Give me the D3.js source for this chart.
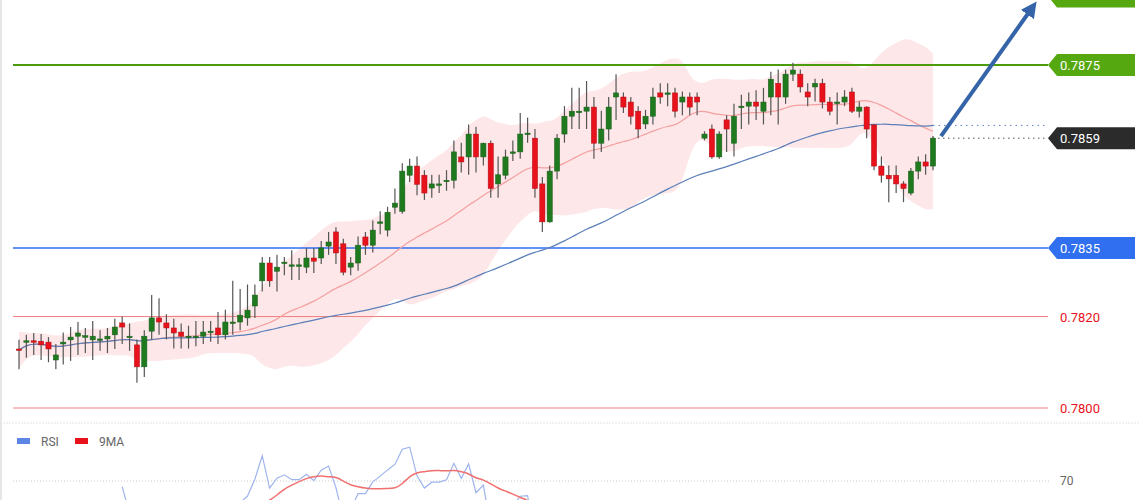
<!DOCTYPE html>
<html><head><meta charset="utf-8">
<script src="https://cdn.jsdelivr.net/npm/d3@7"></script>
<style>body{margin:0;background:#fff}svg{display:block;font-family:Roboto,Arial,sans-serif}</style>
</head><body><svg id="c" width="1140" height="500"></svg>
<script>
// candles: [open, high, low, close]
const candles = [
[0.78129,0.78149,0.78085,0.78127],[0.78146,0.78160,0.78110,0.78147],[0.78147,0.78164,0.78116,0.78146],[0.78146,0.78162,0.78105,0.78138],
[0.78144,0.78155,0.78100,0.78129],[0.78105,0.78140,0.78085,0.78116],[0.78140,0.78165,0.78095,0.78144],[0.78149,0.78177,0.78103,0.78155],
[0.78157,0.78188,0.78116,0.78164],[0.78156,0.78175,0.78120,0.78158],[0.78149,0.78190,0.78105,0.78157],[0.78151,0.78170,0.78125,0.78151],
[0.78151,0.78175,0.78120,0.78157],[0.78160,0.78195,0.78129,0.78177],[0.78186,0.78200,0.78140,0.78177],[0.78157,0.78185,0.78125,0.78157],
[0.78138,0.78150,0.78055,0.78090],[0.78090,0.78170,0.78068,0.78157],[0.78168,0.78247,0.78150,0.78197],[0.78197,0.78240,0.78160,0.78188],
[0.78186,0.78205,0.78150,0.78175],[0.78175,0.78195,0.78130,0.78164],[0.78166,0.78185,0.78130,0.78157],[0.78157,0.78180,0.78130,0.78157],
[0.78157,0.78190,0.78135,0.78157],[0.78157,0.78190,0.78140,0.78166],[0.78168,0.78190,0.78145,0.78168],[0.78175,0.78210,0.78140,0.78160],
[0.78160,0.78215,0.78150,0.78188],[0.78188,0.78278,0.78160,0.78188],[0.78188,0.78260,0.78170,0.78203],[0.78197,0.78270,0.78180,0.78214],
[0.78223,0.78270,0.78197,0.78247],[0.78278,0.78330,0.78255,0.78317],[0.78317,0.78330,0.78265,0.78278],[0.78299,0.78335,0.78255,0.78308],
[0.78319,0.78330,0.78290,0.78319],[0.78313,0.78345,0.78280,0.78313],[0.78310,0.78328,0.78280,0.78313],[0.78308,0.78350,0.78295,0.78328],
[0.78328,0.78350,0.78295,0.78321],[0.78328,0.78365,0.78315,0.78350],[0.78354,0.78385,0.78335,0.78363],[0.78385,0.78395,0.78315,0.78339],
[0.78359,0.78370,0.78290,0.78297],[0.78308,0.78330,0.78290,0.78317],[0.78317,0.78375,0.78300,0.78356],[0.78374,0.78385,0.78335,0.78356],
[0.78356,0.78410,0.78340,0.78389],[0.78407,0.78430,0.78380,0.78407],[0.78389,0.78440,0.78375,0.78428],[0.78439,0.78480,0.78425,0.78448],
[0.78430,0.78535,0.78425,0.78518],[0.78509,0.78545,0.78494,0.78529],[0.78529,0.78550,0.78465,0.78489],[0.78509,0.78520,0.78455,0.78470],
[0.78481,0.78510,0.78460,0.78490],[0.78490,0.78510,0.78470,0.78490],[0.78498,0.78520,0.78475,0.78498],[0.78498,0.78585,0.78480,0.78560],
[0.78549,0.78580,0.78515,0.78538],[0.78549,0.78620,0.78510,0.78599],[0.78599,0.78615,0.78515,0.78549],[0.78549,0.78580,0.78530,0.78579],
[0.78579,0.78585,0.78460,0.78480],[0.78490,0.78550,0.78460,0.78510],[0.78509,0.78565,0.78500,0.78549],[0.78560,0.78585,0.78540,0.78560],
[0.78560,0.78645,0.78545,0.78599],[0.78601,0.78635,0.78580,0.78601],[0.78590,0.78610,0.78460,0.78480],[0.78490,0.78505,0.78385,0.78407],
[0.78407,0.78530,0.78405,0.78518],[0.78518,0.78599,0.78500,0.78590],[0.78599,0.78660,0.78580,0.78638],[0.78638,0.78700,0.78610,0.78649],
[0.78649,0.78700,0.78610,0.78649],[0.78649,0.78715,0.78610,0.78658],[0.78658,0.78680,0.78545,0.78579],[0.78579,0.78650,0.78560,0.78610],
[0.78610,0.78680,0.78585,0.78658],[0.78680,0.78730,0.78630,0.78689],[0.78680,0.78690,0.78645,0.78658],[0.78669,0.78680,0.78620,0.78638],
[0.78649,0.78660,0.78590,0.78610],[0.78621,0.78652,0.78610,0.78638],[0.78638,0.78700,0.78620,0.78680],[0.78689,0.78710,0.78665,0.78680],
[0.78689,0.78710,0.78660,0.78689],[0.78689,0.78700,0.78635,0.78649],[0.78669,0.78692,0.78640,0.78680],[0.78680,0.78690,0.78640,0.78658],
[0.78680,0.78690,0.78640,0.78669],[0.78590,0.78605,0.78585,0.78599],[0.78610,0.78620,0.78545,0.78549],[0.78549,0.78605,0.78545,0.78599],
[0.78630,0.78640,0.78560,0.78610],[0.78579,0.78665,0.78550,0.78638],[0.78660,0.78685,0.78610,0.78660],[0.78660,0.78690,0.78620,0.78669],
[0.78669,0.78695,0.78630,0.78660],[0.78649,0.78700,0.78620,0.78669],[0.78680,0.78735,0.78640,0.78719],[0.78710,0.78740,0.78620,0.78680],
[0.78680,0.78740,0.78665,0.78730],[0.78730,0.78755,0.78715,0.78739],[0.78730,0.78740,0.78690,0.78702],[0.78691,0.78710,0.78660,0.78680],
[0.78702,0.78720,0.78670,0.78710],[0.78710,0.78720,0.78655,0.78669],[0.78669,0.78680,0.78640,0.78649],[0.78669,0.78690,0.78620,0.78669],
[0.78669,0.78695,0.78660,0.78680],[0.78691,0.78700,0.78645,0.78649],[0.78649,0.78670,0.78635,0.78658],[0.78658,0.78660,0.78590,0.78610],
[0.78619,0.78620,0.78520,0.78529],[0.78529,0.78550,0.78493,0.78509],[0.78509,0.78530,0.78450,0.78501],[0.78509,0.78530,0.78470,0.78490],
[0.78490,0.78496,0.78450,0.78480],[0.78470,0.78525,0.78465,0.78518],[0.78518,0.78550,0.78500,0.78538],[0.78538,0.78555,0.78510,0.78529],
[0.78529,0.78595,0.78520,0.78590]];
const levels = [
  {v:0.7875, color:"#4b9c0c", box:"#56a811", text:"#fff", w:2},
  {v:0.7835, color:"#2f6ff0", box:"#2f6ff0", text:"#fff", w:1.5},
  {v:0.7820, color:"#f08080", box:null, text:"#e8121c", w:1},
  {v:0.7800, color:"#f08080", box:null, text:"#e8121c", w:1}
];
const lastLabel = "0.7859";
const topLabel = 0.7890;
const legend = [{name:"RSI",color:"#5b86e5"},{name:"9MA",color:"#e8121c"}];
const rsiLevel = 70;

const svg=d3.select("#c");
const n=candles.length;
const closes=candles.map(d=>d[3]);
const x=d3.scaleLinear().domain([0,n-1]).range([19,933]);
const y=d3.scaleLinear().domain([0.7800,0.7875]).range([408,65]);

function sma(arr,p,i){return d3.mean(arr.slice(Math.max(0,i-p+1),i+1));}
const mid=closes.map((c,i)=>sma(closes,20,i));
const sd=closes.map((c,i)=>{const s=closes.slice(Math.max(0,i-19),i+1);return s.length>1?d3.deviation(s):0.0002;});
const upper=mid.map((m,i)=>m+2*Math.max(sd[i],0.00012)), lower=mid.map((m,i)=>m-2*Math.max(sd[i],0.00012));
const ma60=closes.map((c,i)=>sma(closes,60,i));

svg.append("line").attr("x1",1).attr("x2",1).attr("y1",0).attr("y2",500).attr("stroke","#e6e6e6").attr("stroke-width",2);

svg.append("path").datum(d3.range(n)).attr("fill","#fde3e4").attr("opacity",0.85)
 .attr("d",d3.area().x(i=>x(i)).y0(i=>y(lower[i])).y1(i=>y(upper[i])).curve(d3.curveBasis));

function tag(yy,fill){svg.append("path").attr("d",`M1048,${yy} L1057,${yy-11} L1135,${yy-11} L1135,${yy+11} L1057,${yy+11} Z`).attr("fill",fill);}
levels.forEach(l=>{
  const yy=y(l.v);
  svg.append("line").attr("x1",13).attr("x2",1048).attr("y1",yy).attr("y2",yy).attr("stroke",l.color).attr("stroke-width",l.w);
  if(l.box) tag(yy,l.box);
  svg.append("text").attr("x",1060).attr("y",yy+5).attr("font-size",13).attr("fill",l.text).text(l.v.toFixed(4));
});
tag(y(topLabel),"#56a811");

svg.append("path").datum(d3.range(n)).attr("fill","none").attr("stroke","#f4a0a0").attr("stroke-width",1.2)
 .attr("d",d3.line().x(i=>x(i)).y(i=>y(mid[i])).curve(d3.curveBasis));
svg.append("path").datum(d3.range(n)).attr("fill","none").attr("stroke","#5b7fb8").attr("stroke-width",1.2)
 .attr("d",d3.line().x(i=>x(i)).y(i=>y(ma60[i])).curve(d3.curveBasis));
svg.append("line").attr("x1",x(n-1)).attr("x2",1045).attr("y1",y(ma60[n-1])).attr("y2",y(ma60[n-1])).attr("stroke","#5b7fb8").attr("stroke-dasharray","1.5,4");
const ly=y(closes[n-1]);
svg.append("line").attr("x1",x(n-1)).attr("x2",1045).attr("y1",ly).attr("y2",ly).attr("stroke","#555").attr("stroke-dasharray","1.5,3.5");
tag(ly,"#2b2b2b");
svg.append("text").attr("x",1060).attr("y",ly+5).attr("font-size",13).attr("fill","#fff").text(lastLabel);

const g=svg.append("g");
candles.forEach((d,i)=>{
  const [o,h,l,c]=d, up=c>=o;
  g.append("line").attr("x1",x(i)).attr("x2",x(i)).attr("y1",y(Math.max(h,o,c))).attr("y2",y(Math.min(l,o,c))).attr("stroke","#555").attr("stroke-width",1.2);
  const t=y(Math.max(o,c)),b=y(Math.min(o,c));
  g.append("rect").attr("x",x(i)-2.6).attr("width",5.2).attr("y",t).attr("height",Math.max(1.5,b-t))
   .attr("fill",up?"#1f7a1f":"#e8121c").attr("stroke",up?"#1a5e1a":"#b00e14").attr("stroke-width",0.5);
});

svg.append("defs").append("marker").attr("id","ah").attr("viewBox","0 0 10 10").attr("refX",5).attr("refY",5)
 .attr("markerWidth",4).attr("markerHeight",4).attr("orient","auto").append("path").attr("d","M0,0 L10,5 L0,10 Z").attr("fill","#3565a8");
svg.append("line").attr("x1",941).attr("y1",ly-2).attr("x2",1032).attr("y2",8).attr("stroke","#3565a8").attr("stroke-width",4).attr("marker-end","url(#ah)");

svg.append("line").attr("x1",0).attr("x2",1140).attr("y1",423).attr("y2",423).attr("stroke","#e4e4e4").attr("stroke-dasharray","2,1");
legend.forEach((l,k)=>{
  const lx=17+k*58;
  svg.append("rect").attr("x",lx).attr("y",438).attr("width",13).attr("height",6).attr("fill",l.color);
  svg.append("text").attr("x",lx+24).attr("y",446).attr("font-size",12).attr("fill","#666").text(l.name);
});
const rsi=[];let ag=0,al=0;
for(let i=1;i<n;i++){const d=closes[i]-closes[i-1];const gn=Math.max(d,0),ls=Math.max(-d,0);
  if(i<=14){ag+=gn/14;al+=ls/14;} else {ag=(ag*13+gn)/14;al=(al*13+ls)/14;}
  rsi[i]=i>=14?100-100/(1+ag/Math.max(al,1e-9)):null;}
const rma=rsi.map((r,i)=>i>=22?d3.mean(rsi.slice(i-8,i+1)):null);
const ry=d3.scaleLinear().domain([30,70]).range([600,481]);
svg.append("line").attr("x1",13).attr("x2",1050).attr("y1",ry(rsiLevel)).attr("y2",ry(rsiLevel)).attr("stroke","#ccc").attr("stroke-dasharray","1,2");
svg.append("text").attr("x",1060).attr("y",ry(rsiLevel)+4).attr("font-size",12).attr("fill","#666").text(rsiLevel);
svg.append("clipPath").attr("id","cp").append("rect").attr("x",0).attr("y",425).attr("width",1140).attr("height",80);
const pr=svg.append("g").attr("clip-path","url(#cp)");
pr.append("path").datum(d3.range(n).filter(i=>rsi[i]!=null)).attr("fill","none").attr("stroke","#9db4ec").attr("stroke-width",1.2)
 .attr("d",d3.line().x(i=>x(i)).y(i=>ry(rsi[i])));
pr.append("path").datum(d3.range(n).filter(i=>rma[i]!=null)).attr("fill","none").attr("stroke","#f07070").attr("stroke-width",1.5)
 .attr("d",d3.line().x(i=>x(i)).y(i=>ry(rma[i])).curve(d3.curveBasis));
</script></body></html>
